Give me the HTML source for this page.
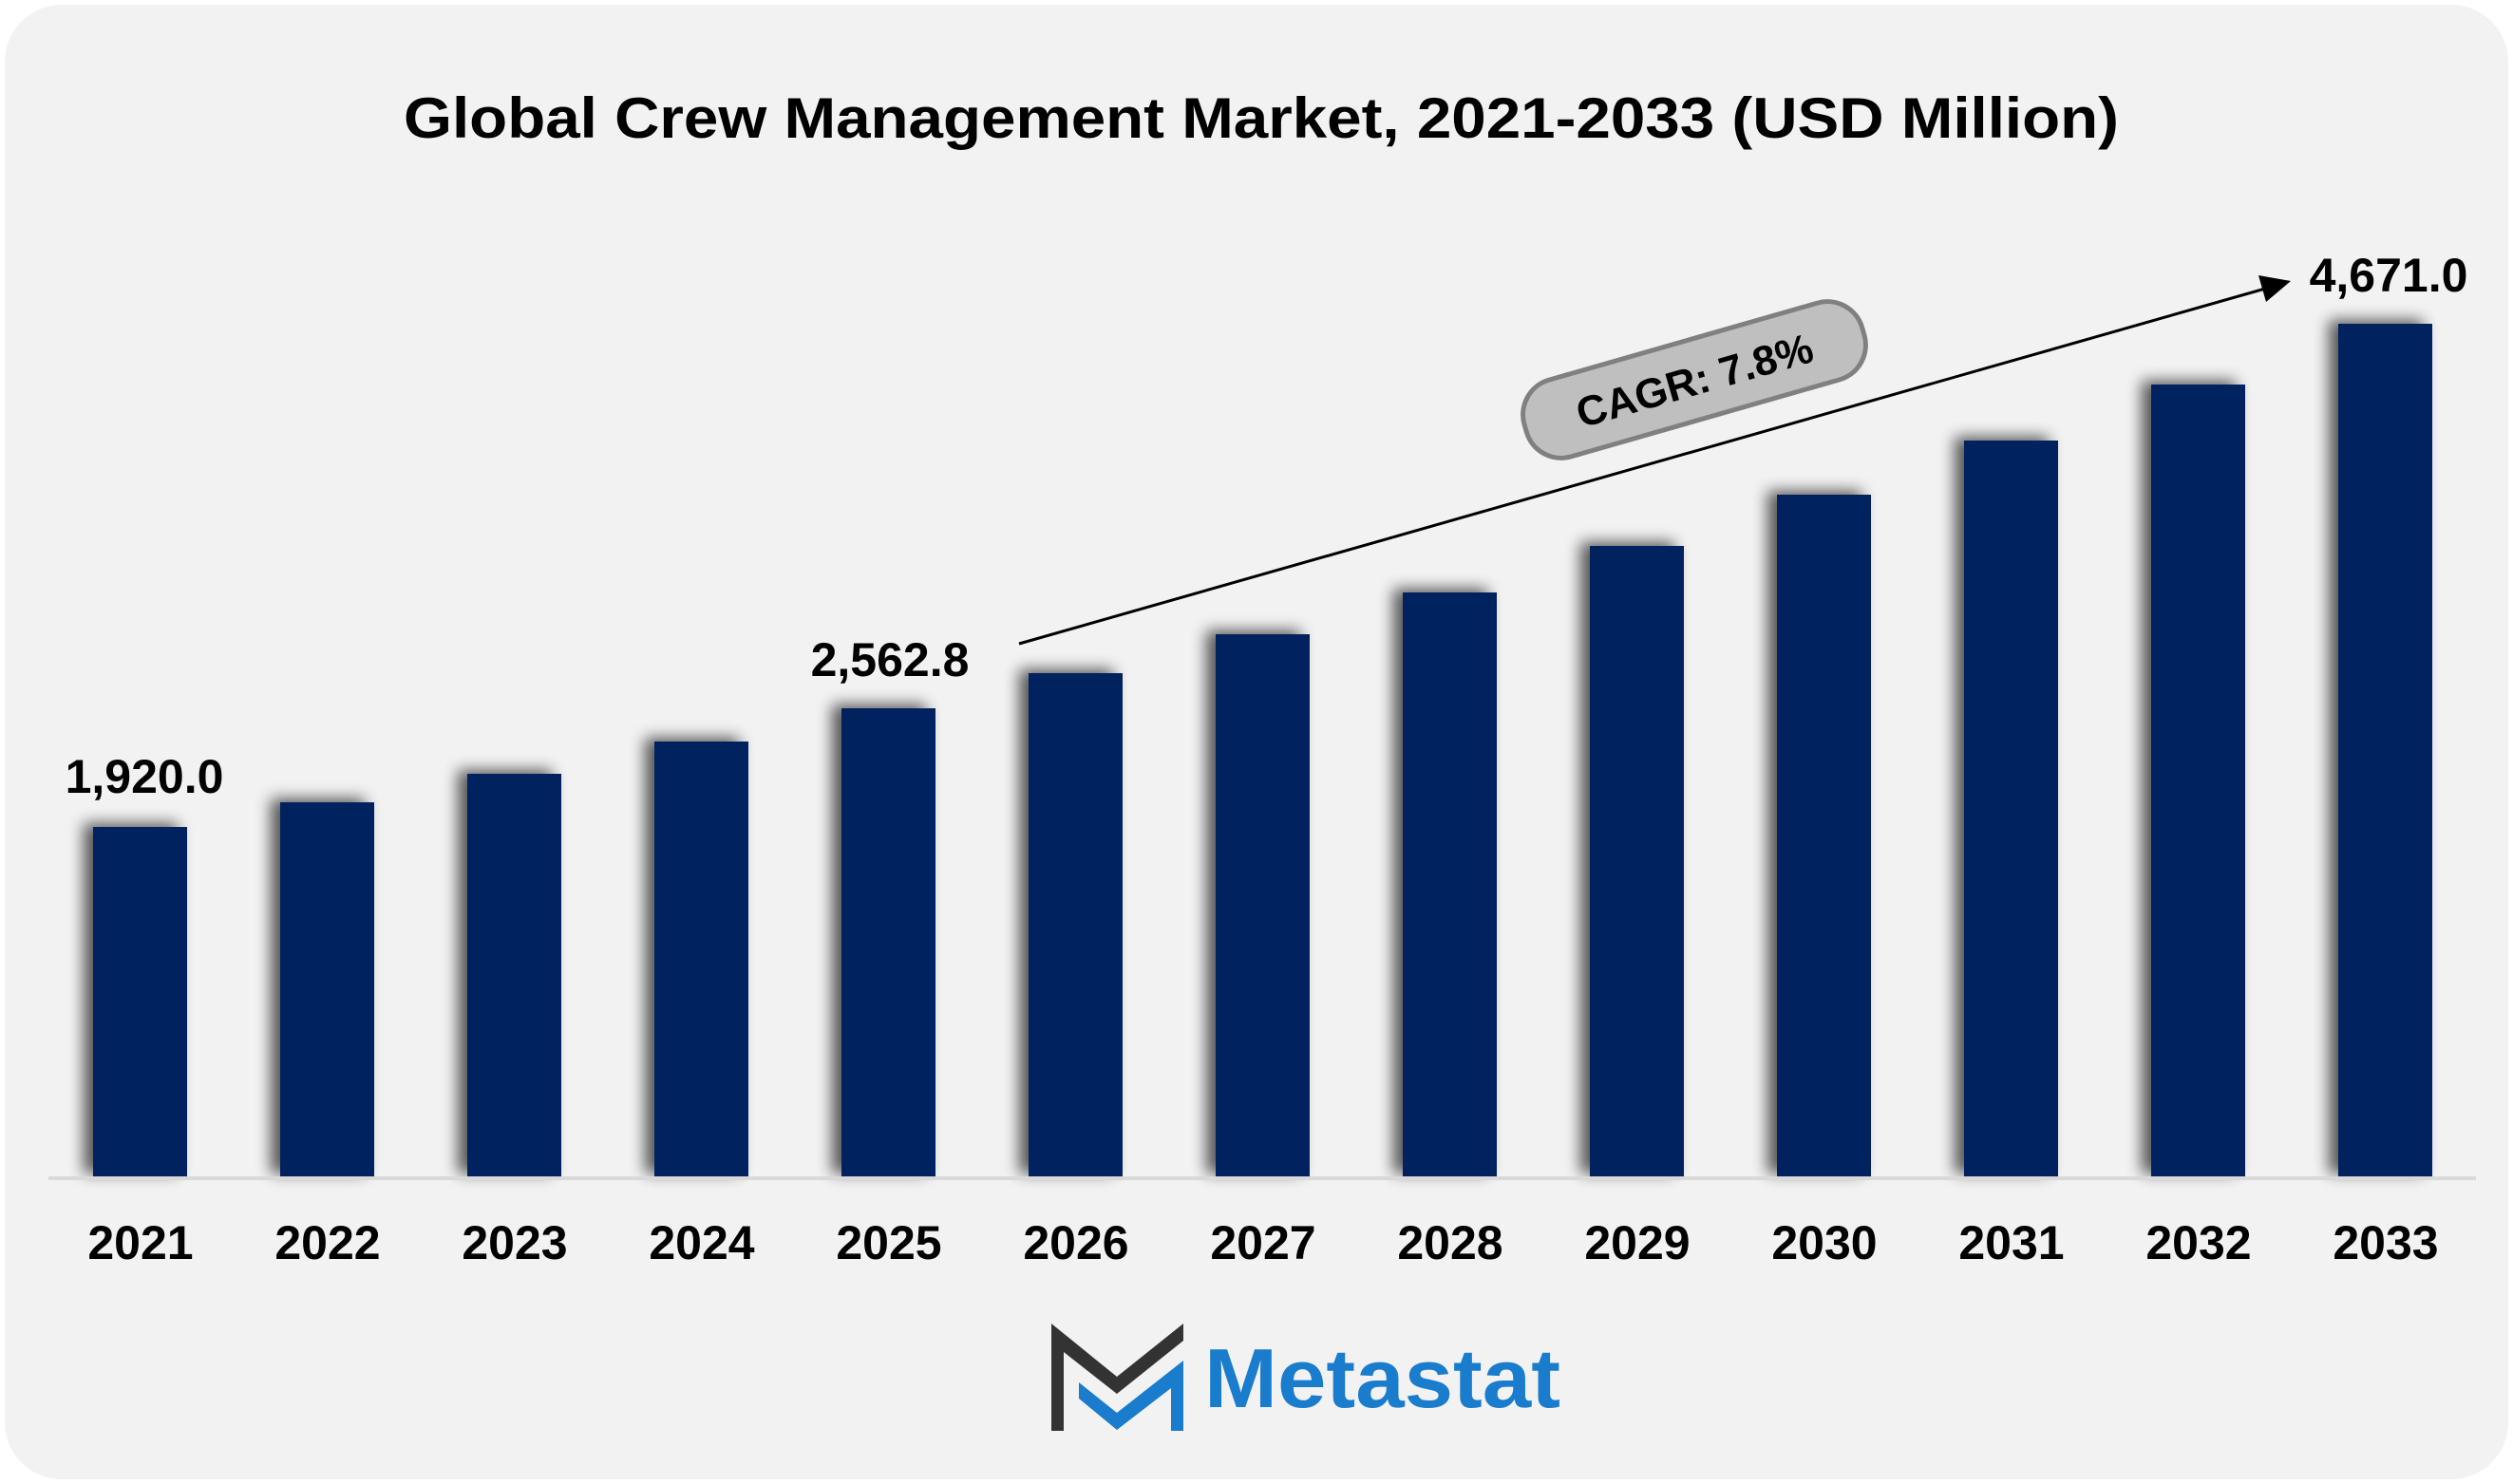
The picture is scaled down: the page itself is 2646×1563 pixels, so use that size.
<!DOCTYPE html>
<html><head><meta charset="utf-8"><style>
html,body{margin:0;padding:0;background:#fff;}
svg{display:block;}
</style></head><body>
<svg width="2646" height="1563" viewBox="0 0 2646 1563" xmlns="http://www.w3.org/2000/svg">
<defs>
<filter id="sh" x="-30%" y="-10%" width="160%" height="120%">
<feGaussianBlur in="SourceAlpha" stdDeviation="8"/>
<feOffset dx="-10" dy="-4"/>
<feComponentTransfer><feFuncA type="linear" slope="0.65"/></feComponentTransfer>
<feMerge><feMergeNode/><feMergeNode in="SourceGraphic"/></feMerge>
</filter>
</defs>
<rect x="5" y="5" width="2636" height="1553" rx="60" fill="#f2f2f2"/>
<text x="1328" y="145" text-anchor="middle" font-family="Liberation Sans, sans-serif" font-weight="bold" font-size="60" textLength="1806" lengthAdjust="spacingAndGlyphs" fill="#000">Global Crew Management Market, 2021-2033 (USD Million)</text>
<g fill="#00205f" filter="url(#sh)">
<rect x="98" y="871" width="99" height="369"/>
<rect x="295" y="845" width="99" height="395"/>
<rect x="492" y="815" width="99" height="425"/>
<rect x="689" y="781" width="99" height="459"/>
<rect x="886" y="746" width="99" height="494"/>
<rect x="1083" y="709" width="99" height="531"/>
<rect x="1280" y="668" width="99" height="572"/>
<rect x="1477" y="624" width="99" height="616"/>
<rect x="1674" y="575" width="99" height="665"/>
<rect x="1871" y="521" width="99" height="719"/>
<rect x="2068" y="464" width="99" height="776"/>
<rect x="2265" y="405" width="99" height="835"/>
<rect x="2462" y="341" width="99" height="899"/>
</g>
<rect x="51" y="1239" width="2556" height="4" fill="#d9d9d9"/>
<g font-family="Liberation Sans, sans-serif" font-weight="bold" font-size="50" fill="#000" text-anchor="middle">
<text x="148" y="1326">2021</text>
<text x="345" y="1326">2022</text>
<text x="542" y="1326">2023</text>
<text x="739" y="1326">2024</text>
<text x="936" y="1326">2025</text>
<text x="1133" y="1326">2026</text>
<text x="1330" y="1326">2027</text>
<text x="1527" y="1326">2028</text>
<text x="1724" y="1326">2029</text>
<text x="1921" y="1326">2030</text>
<text x="2118" y="1326">2031</text>
<text x="2315" y="1326">2032</text>
<text x="2512" y="1326">2033</text>
<text x="152" y="835">1,920.0</text>
<text x="937" y="712">2,562.8</text>
<text x="2515" y="307">4,671.0</text>
</g>
<line x1="1073" y1="678" x2="2385" y2="304" stroke="#000" stroke-width="3"/>
<polygon points="2412,296 2378,290 2386,318" fill="#000"/>
<g transform="translate(1784,400) rotate(-16)">
<rect x="-185" y="-42" width="370" height="84" rx="38" fill="#bfbfbf" stroke="#808080" stroke-width="5"/>
<text x="0" y="16" text-anchor="middle" font-family="Liberation Sans, sans-serif" font-weight="bold" font-size="44" fill="#000">CAGR: 7.8%</text>
</g>
<polygon points="1107,1394 1176,1450 1246,1394 1246,1412 1176,1468 1120,1424 1120,1507 1107,1507" fill="#333"/>
<polygon points="1136,1456 1176,1488 1246,1433 1246,1507 1233,1507 1233,1462 1176,1506 1136,1473" fill="#1a7ccc"/>
<text x="1268" y="1482" font-family="Liberation Sans, sans-serif" font-weight="bold" font-size="88" textLength="375" lengthAdjust="spacingAndGlyphs" fill="#1a7ccc">Metastat</text>
</svg>
</body></html>
